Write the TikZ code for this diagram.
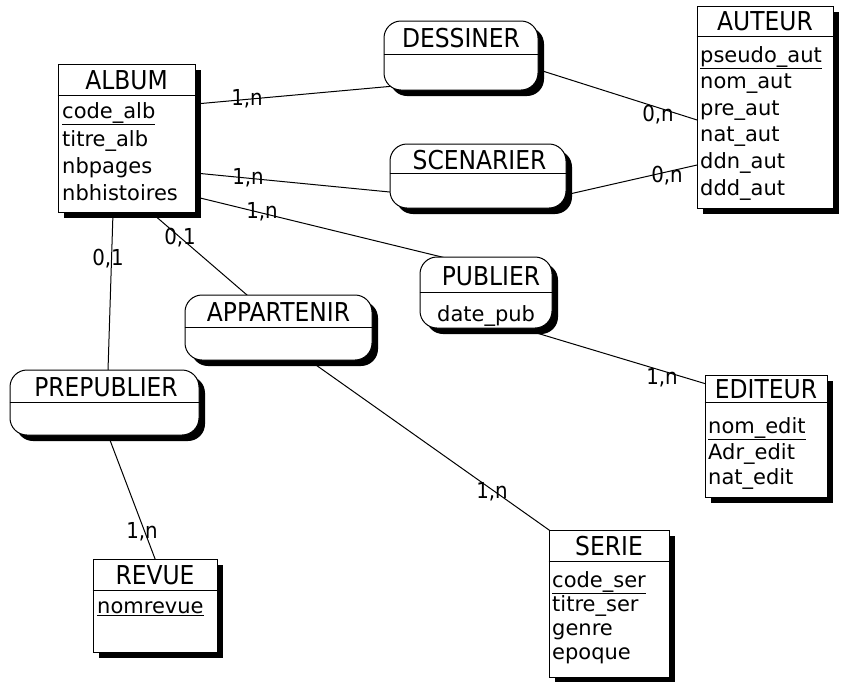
\documentclass[tikz,border=0pt]{standalone}
\usepackage{fontspec}
\setmainfont{DejaVu Sans}
\newfontfamily\titlefont[FakeStretch=0.9]{DejaVu Sans}
\usetikzlibrary{calc,shadows,backgrounds}
\begin{document}
\begin{tikzpicture}[x=1pt,y=-1pt,
  entity/.style={draw, fill=white, line width=1pt, inner sep=0pt,
    drop shadow={shadow xshift=6pt, shadow yshift=-6pt, opacity=1, fill=black}},
  rel/.style={entity, rounded corners=17pt},
  ttl/.style={font=\titlefont\fontsize{26}{30}\selectfont, inner sep=0pt},
  attr/.style={font=\fontsize{21}{25}\selectfont, inner sep=0pt, anchor=base west},
  card/.style={font=\titlefont\fontsize{22}{26}\selectfont, inner sep=0pt, anchor=base},
  link/.style={line width=1pt},
  sep/.style={line width=1pt}]
\useasboundingbox (0,0) rectangle (841,681);

% ---------- entities ----------
\node[entity, minimum width=137pt, minimum height=148pt] (album) at (126.5,138) {};
\draw[sep] ($(album.north west)+(0,32)$) -- ($(album.north east)+(0,32)$);
\node[ttl] (albumt) at (126.5,80) {ALBUM};
\node[attr] (a1) at (62,118) {\underline{code\_alb}};
\node[attr] (a2) at (62,146) {titre\_alb};
\node[attr] (a3) at (62,173) {nbpages};
\node[attr] (a4) at (62,200) {nbhistoires};

\node[entity, minimum width=136pt, minimum height=202pt] (auteur) at (765,107) {};
\draw[sep] ($(auteur.north west)+(0,31)$) -- ($(auteur.north east)+(0,31)$);
\node[ttl] (auteurt) at (765,21.5) {AUTEUR};
\node[attr] (u1) at (700,62) {\underline{pseudo\_aut}};
\node[attr] (u2) at (700,88.5) {nom\_aut};
\node[attr] (u3) at (700,115) {pre\_aut};
\node[attr] (u4) at (700,141) {nat\_aut};
\node[attr] (u5) at (700,168) {ddn\_aut};
\node[attr] (u6) at (700,195) {ddd\_aut};

\node[entity, minimum width=122pt, minimum height=122pt] (editeur) at (766,436) {};
\draw[sep] ($(editeur.north west)+(0,28)$) -- ($(editeur.north east)+(0,28)$);
\node[ttl] (editeurt) at (766,389) {EDITEUR};
\node[attr] (e1) at (708,433) {\underline{nom\_edit}};
\node[attr] (e2) at (708,459) {Adr\_edit};
\node[attr] (e3) at (708,484) {nat\_edit};

\node[entity, minimum width=120pt, minimum height=147pt] (serie) at (609,603.5) {};
\draw[sep] ($(serie.north west)+(0,32)$) -- ($(serie.north east)+(0,32)$);
\node[ttl] (seriet) at (609,546) {SERIE};
\node[attr] (s1) at (552,587) {\underline{code\_ser}};
\node[attr] (s2) at (552,611) {titre\_ser};
\node[attr] (s3) at (552,635) {genre};
\node[attr] (s4) at (552,659) {epoque};

\node[entity, minimum width=124pt, minimum height=93pt] (revue) at (155,605.5) {};
\draw[sep] ($(revue.north west)+(0,32)$) -- ($(revue.north east)+(0,32)$);
\node[ttl] (revuet) at (155,575) {REVUE};
\node[attr] (r1) at (97,613) {\underline{nomrevue}};

% ---------- relationships ----------
\node[rel, minimum width=154pt, minimum height=69pt] (dessiner) at (461,55.5) {};
\draw[sep] ($(dessiner.west)+(0,-1.5)$) -- ($(dessiner.east)+(0,-1.5)$);
\node[ttl] (dessinert) at (461,38) {DESSINER};

\node[rel, minimum width=176pt, minimum height=64pt] (scenarier) at (478,176) {};
\draw[sep] ($(scenarier.west)+(0,-3)$) -- ($(scenarier.east)+(0,-3)$);
\node[ttl] (scenariert) at (479.5,160) {SCENARIER};

\node[rel, minimum width=132pt, minimum height=71pt] (publier) at (486,292.5) {};
\draw[sep] ($(publier.west)+(0,-0.5)$) -- ($(publier.east)+(0,-0.5)$);
\node[ttl] (publiert) at (491,276) {PUBLIER};
\node[attr] (p1) at (437,321) {date\_pub};

\node[rel, minimum width=187pt, minimum height=65pt] (appartenir) at (278.5,327.5) {};
\draw[sep] ($(appartenir.west)+(0,-0.5)$) -- ($(appartenir.east)+(0,-0.5)$);
\node[ttl] (appartenirt) at (278.5,312) {APPARTENIR};

\node[rel, minimum width=189pt, minimum height=65pt] (prepublier) at (104.5,402.5) {};
\draw[sep] ($(prepublier.west)+(0,-0.5)$) -- ($(prepublier.east)+(0,-0.5)$);
\node[ttl] (prepubliert) at (106,387) {PREPUBLIER};

% ---------- connectors ----------
\begin{pgfonlayer}{background}
\draw[link] ($(album)+(63.5,-33.5)$) -- ($(dessiner)+(-61,30)$);
\draw[link] ($(dessiner)+(69,11.5)$) -- ($(auteur)+(-60,15.5)$);
\draw[link] ($(album)+(63.5,34.5)$) -- ($(scenarier)+(-78,17)$);
\draw[link] ($(scenarier)+(77,21.3)$) -- ($(auteur)+(-60,56.2)$);
\draw[link] ($(album)+(63.5,57.5)$) -- ($(publier)+(-36,-33.5)$);
\draw[link] ($(publier)+(34,35.5)$) -- ($(editeur)+(-54,-50.3)$);
\draw[link] ($(album)+(-13.1,62)$) -- ($(prepublier)+(3.2,-22.5)$);
\draw[link] ($(album)+(21.5,71.7)$) -- ($(appartenir)+(-23.5,-25.6)$);
\draw[link] ($(appartenir)+(31.5,33.3)$) -- ($(serie)+(-54,-69.3)$);
\draw[link] ($(prepublier)+(0.5,24.5)$) -- ($(revue)+(2,-41.5)$);
\end{pgfonlayer}

% ---------- cardinalities ----------
\node[card] (c1) at (247,105) {1,n};
\node[card] (c2) at (658,121) {0,n};
\node[card] (c3) at (248,184) {1,n};
\node[card] (c4) at (667,182) {0,n};
\node[card] (c5) at (262,218) {1,n};
\node[card] (c6) at (662,384) {1,n};
\node[card] (c7) at (108,265) {0,1};
\node[card] (c8) at (180,244) {0,1};
\node[card] (c9) at (492,498) {1,n};
\node[card] (c10) at (142,538) {1,n};
\end{tikzpicture}
\end{document}
